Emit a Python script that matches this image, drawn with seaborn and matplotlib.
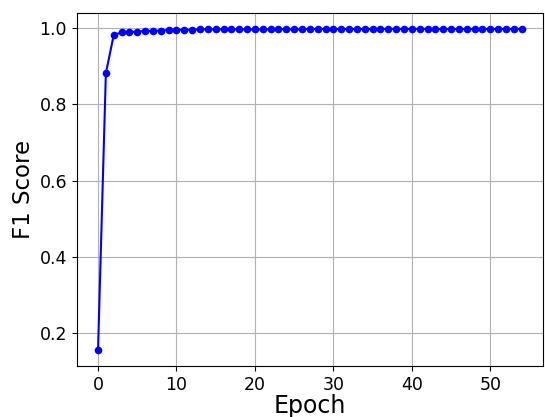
import numpy as np
import pandas as pd
import seaborn as sns
import matplotlib.pyplot as plt

# F1 score per epoch
epochs = np.arange(0, 55)
f1_scores = [
    0.155, 0.882, 0.982, 0.989, 0.990, 0.991, 0.993, 0.993, 0.994, 0.995,
    0.996, 0.996, 0.996, 0.997, 0.997, 0.997, 0.997, 0.997, 0.997, 0.997,
    0.997, 0.997, 0.997, 0.998, 0.997, 0.997, 0.997, 0.998, 0.998, 0.998,
    0.998, 0.998, 0.998, 0.998, 0.998, 0.998, 0.998, 0.998, 0.998, 0.998,
    0.998, 0.998, 0.998, 0.998, 0.998, 0.998, 0.998, 0.998, 0.998, 0.998,
    0.998, 0.998, 0.998, 0.998, 0.998,
]

df = pd.DataFrame({'Epoch': epochs, 'F1 Score': f1_scores})

fig, ax = plt.subplots(figsize=(5.45, 4.17), dpi=100)
sns.lineplot(x='Epoch', y='F1 Score', data=df, marker='o', color='b',
             markersize=5.5, markeredgewidth=0, linewidth=1.5, ax=ax)

ax.grid(True, color='#b0b0b0', linewidth=0.8)
ax.set_axisbelow(True)
ax.set_xticks([0, 10, 20, 30, 40, 50])
ax.set_yticks([0.2, 0.4, 0.6, 0.8, 1.0])
ax.tick_params(labelsize=12.5)
ax.set_xlabel('Epoch', fontsize=17, labelpad=0)
ax.set_ylabel('F1 Score', fontsize=16.5, labelpad=3)

fig.subplots_adjust(left=0.141, right=0.996, top=0.969, bottom=0.122)
fig.savefig('out.png', dpi=100)
